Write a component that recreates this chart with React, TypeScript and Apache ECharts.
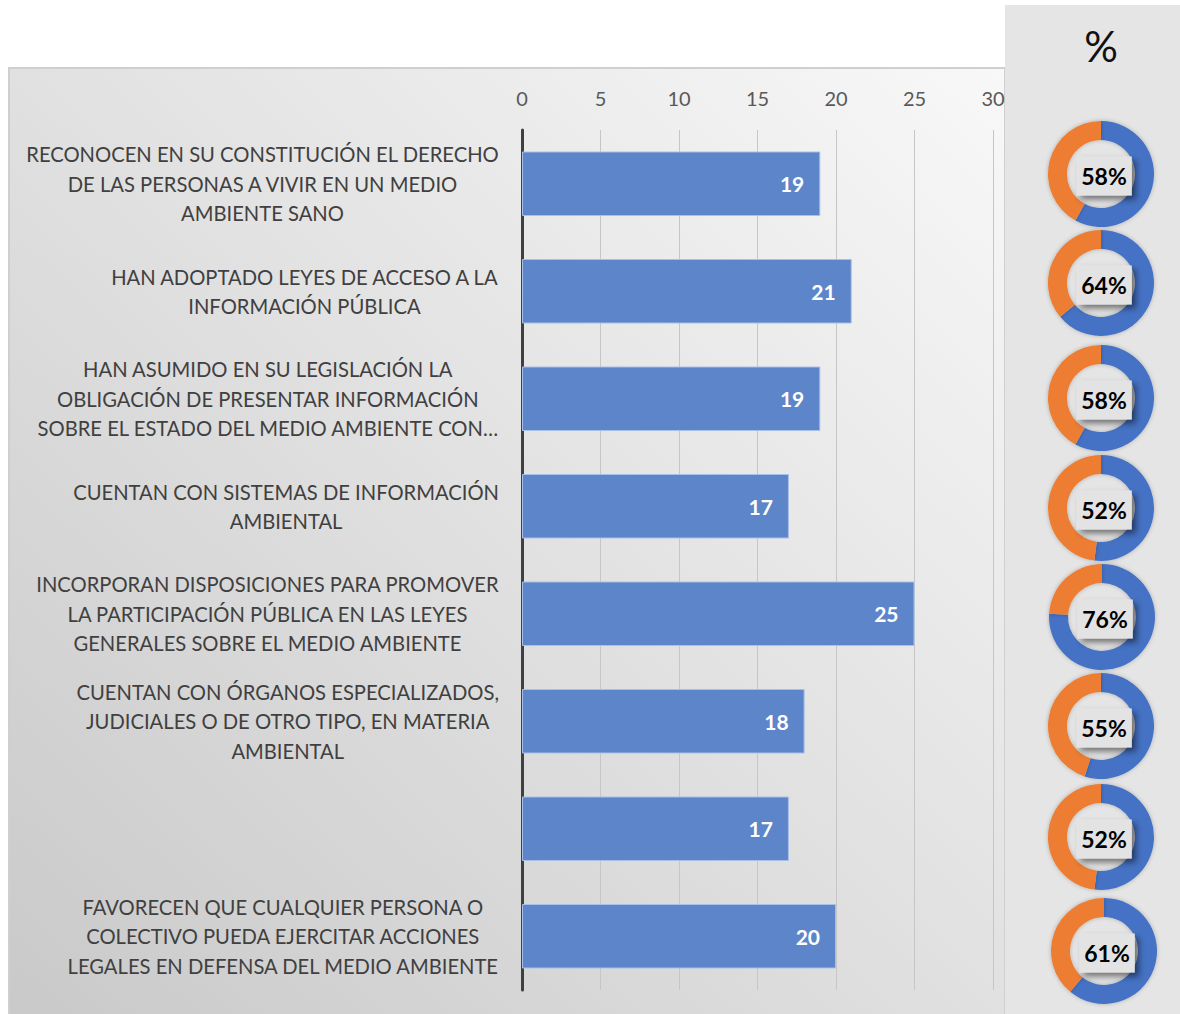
import React, { useEffect, useRef } from "react";
import * as echarts from "echarts";

// ---- data ----
const categories: string[] = [
  "RECONOCEN EN SU CONSTITUCIÓN EL DERECHO\nDE LAS PERSONAS A VIVIR EN UN MEDIO\nAMBIENTE SANO",
  "HAN ADOPTADO LEYES DE ACCESO A LA\nINFORMACIÓN PÚBLICA",
  "HAN ASUMIDO EN SU LEGISLACIÓN LA\nOBLIGACIÓN DE PRESENTAR INFORMACIÓN\nSOBRE EL ESTADO DEL MEDIO AMBIENTE CON…",
  "CUENTAN CON SISTEMAS DE INFORMACIÓN\nAMBIENTAL",
  "INCORPORAN DISPOSICIONES PARA PROMOVER\nLA PARTICIPACIÓN PÚBLICA EN LAS LEYES\nGENERALES SOBRE EL MEDIO AMBIENTE",
  "CUENTAN CON ÓRGANOS ESPECIALIZADOS,\nJUDICIALES O DE OTRO TIPO, EN MATERIA\nAMBIENTAL",
  "",
  "FAVORECEN QUE CUALQUIER PERSONA O\nCOLECTIVO PUEDA EJERCITAR ACCIONES\nLEGALES EN DEFENSA DEL MEDIO AMBIENTE",
];
const counts: number[] = [19, 21, 19, 17, 25, 18, 17, 20];
const shares: number[] = [58, 64, 58, 52, 76, 55, 52, 61];
const axisMin = 0;
const axisMax = 30;
const axisStep = 5;
const panelTitle = "%";

// ---- layout ----
const donutCY = [174, 283, 398, 508, 617, 726, 837, 951];
const donutCX = [1101, 1101, 1101, 1101, 1102, 1101, 1101, 1104];
const FONT = "Lato, 'Open Sans', sans-serif";
const BLUE = "#4472c4";
const ORANGE = "#ed7d31";

export default function App() {
  const ref = useRef<HTMLDivElement>(null);
  useEffect(() => {
    if (!ref.current) return;
    const chart = echarts.init(ref.current, undefined, { renderer: "svg" });

    const pies = shares.map((p, i) => ({
      type: "pie",
      center: [donutCX[i], donutCY[i]],
      radius: [34, 53],
      startAngle: 90,
      clockwise: true,
      silent: true,
      animation: false,
      labelLine: { show: false },
      emphasis: { disabled: true },
      itemStyle: { shadowBlur: 4, shadowColor: "rgba(0,0,0,0.25)" },
      data: [
        {
          value: p,
          name: "Sí",
          itemStyle: { color: BLUE },
          label: {
            show: true,
            position: "center",
            formatter: "{c}%",
            fontFamily: FONT,
            fontWeight: "bold",
            fontSize: 23,
            color: "#000",
            backgroundColor: "#e3e3e3",
            padding: [9, 5, 7, 5],
            offset: [3, 2],
            shadowColor: "rgba(0,0,0,0.5)",
            shadowBlur: 6,
            shadowOffsetX: 4,
            shadowOffsetY: 4,
          },
        },
        {
          value: 100 - p,
          name: "No",
          itemStyle: { color: ORANGE },
          label: { show: false },
        },
      ],
    }));

    const option: any = {
      animation: false,
      backgroundColor: "#ffffff",
      graphic: [
        {
          type: "rect",
          z: -10,
          shape: { x: 9, y: 68, width: 996, height: 950 },
          style: {
            fill: new echarts.graphic.LinearGradient(1, 0, 0, 1, [
              { offset: 0, color: "#f8f8f8" },
              { offset: 1, color: "#c9c9c9" },
            ]),
            stroke: "#cfcfcf",
            lineWidth: 2,
          },
        },
        {
          type: "rect",
          z: -10,
          shape: { x: 1005, y: 5, width: 180, height: 1015 },
          style: { fill: "#e5e5e5" },
        },
        {
          type: "text",
          z: 10,
          style: {
            text: panelTitle,
            x: 1101,
            y: 46,
            align: "center",
            verticalAlign: "middle",
            fontFamily: FONT,
            fontSize: 42,
            fill: "#111111",
          },
        },
      ],
      grid: { left: 522, top: 130, width: 471, height: 860, containLabel: false },
      xAxis: {
        type: "value",
        position: "top",
        min: axisMin,
        max: axisMax,
        interval: axisStep,
        axisLine: { show: false },
        axisTick: { show: false },
        axisLabel: {
          margin: 22,
          fontFamily: FONT,
          fontSize: 20,
          color: "#595959",
        },
        splitLine: { show: true, lineStyle: { color: "#c6c6c6", width: 1 } },
      },
      yAxis: {
        type: "category",
        inverse: true,
        data: categories,
        axisLine: { show: true, lineStyle: { color: "#404040", width: 3 } },
        axisTick: { show: false },
        axisLabel: {
          margin: 23,
          align: "right",
          fontFamily: FONT,
          fontSize: 20.2,
          color: "#404040",
          lineHeight: 29.5,
          formatter: (v: string) =>
            v
              .split("\n")
              .map((l) => (l ? `{c|${l}}` : ""))
              .join("\n"),
          rich: {
            c: {
              align: "center",
              fontFamily: FONT,
              fontSize: 20.2,
              color: "#404040",
              lineHeight: 29.5,
            },
          },
        },
      },
      series: [
        {
          type: "bar",
          data: counts,
          barCategoryGap: "40%",
          silent: true,
          itemStyle: {
            color: "#5d85c9",
            borderColor: "#a8bfe6",
            borderWidth: 1,
          },
          label: {
            show: true,
            position: "insideRight",
            distance: 16,
            fontFamily: FONT,
            fontWeight: "bold",
            fontSize: 21,
            color: "#ffffff",
          },
        },
        ...pies,
      ],
    };
    chart.setOption(option);
    return () => chart.dispose();
  }, []);

  return (
    <div
      ref={ref}
      style={{ position: "absolute", left: 0, top: 0, width: 1180, height: 1014 }}
    />
  );
}
